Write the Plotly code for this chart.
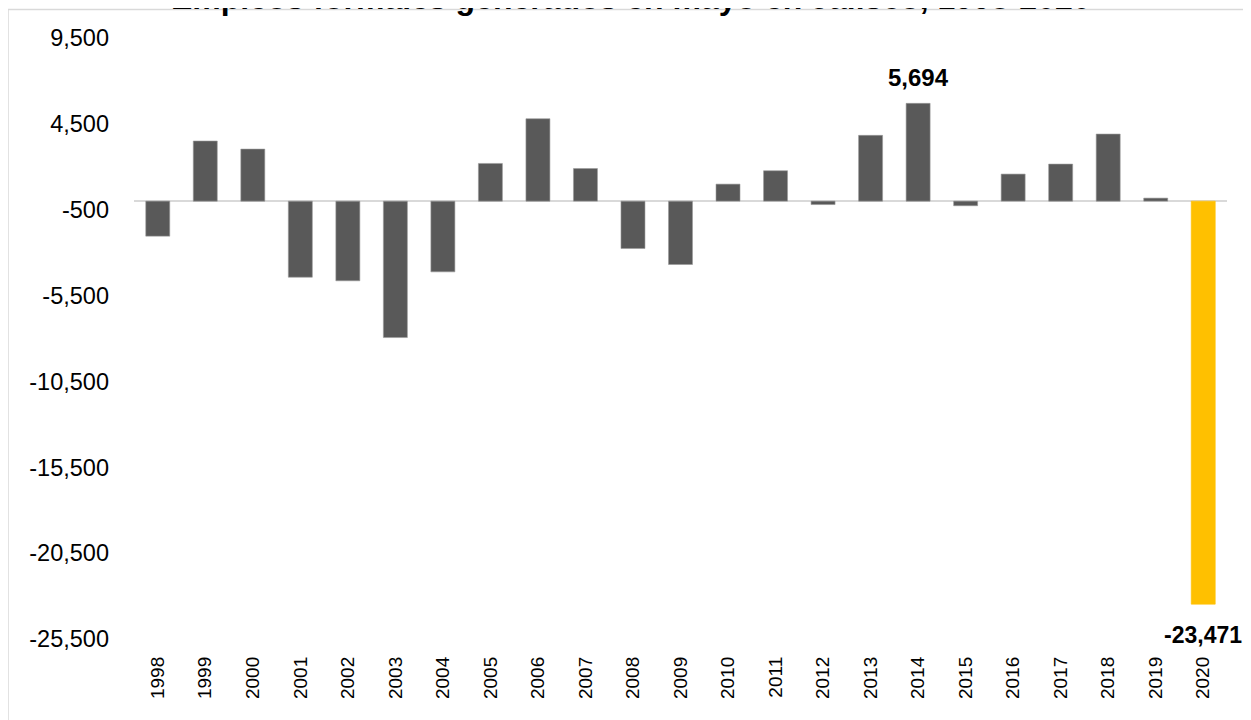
import plotly.graph_objects as go

years = [str(y) for y in range(1998, 2021)]
values = [-2040, 3500, 3030, -4430, -4640, -7945, -4120, 2195, 4800, 1900,
          -2760, -3690, 990, 1770, -200, 3830, 5694, -270, 1575, 2155, 3905,
          175, -23471]
y_tickvals = [-25500, -20500, -15500, -10500, -5500, -500, 4500, 9500]
y_ticktext = ["-25,500", "-20,500", "-15,500", "-10,500", "-5,500", "-500",
              "4,500", "9,500"]
title_text = "Empleos formales generados en mayo en Jalisco, 1998-2020"
highlight = {"2014": "5,694", "2020": "-23,471"}

colors = ["#FFC000" if y == "2020" else "#595959" for y in years]
line_colors = ["#FFC000" if y == "2020" else "#9a9a9a" for y in years]

W, H = 1251, 720
OFF = 8  # page body margin
L, R, T, B = 126, 32, 30, 89
pw, ph = W - L - R, H - T - B

def px_x(sx):
    return (sx - OFF - L) / pw

def px_y(sy):
    return (H - B - (sy - OFF)) / ph

fig = go.Figure()
fig.add_trace(go.Bar(
    x=years, y=values,
    marker=dict(color=colors, line=dict(color=line_colors, width=0.6)),
    hoverinfo="x+y",
))

font_family = "Liberation Sans, Arial, sans-serif"

i14 = years.index("2014")
i20 = years.index("2020")
annotations = [
    dict(x=i14, y=values[i14], xref="x", yref="y",
         text="<b>" + highlight["2014"] + "</b>", showarrow=False,
         yanchor="bottom", yshift=10,
         font=dict(family=font_family, size=24, color="#000000")),
    dict(x=i20, y=values[i20], xref="x", yref="y",
         text="<b>" + highlight["2020"] + "</b>", showarrow=False,
         yanchor="top", yshift=-16,
         font=dict(family=font_family, size=23, color="#000000")),
    dict(x=px_x(631), y=px_y(-2.5), xref="paper", yref="paper",
         text="<b>" + title_text + "</b>", showarrow=False,
         xanchor="center", yanchor="middle",
         font=dict(family=font_family, size=32, color="#000000")),
]

fig.update_layout(
    width=W, height=H,
    margin=dict(l=L, r=R, t=T, b=B, pad=0),
    paper_bgcolor="white", plot_bgcolor="white",
    bargap=0.495,
    showlegend=False,
    annotations=annotations,
    shapes=[dict(type="rect", xref="paper", yref="paper",
                 x0=px_x(8), x1=px_x(1290), y0=px_y(760), y1=px_y(9.5),
                 line=dict(color="#d9d9d9", width=1.5), fillcolor="rgba(0,0,0,0)",
                 layer="below")],
    xaxis=dict(
        type="category",
        range=[-0.5, len(years) - 0.5],
        tickangle=-90,
        tickfont=dict(family=font_family, size=19, color="#000000"),
        showgrid=False, showline=False, ticks="",
        ticklabelstandoff=13,
    ),
    yaxis=dict(
        range=[-25500, 9500],
        tickvals=y_tickvals, ticktext=y_ticktext,
        tickfont=dict(family=font_family, size=23.5, color="#000000"),
        showgrid=False, showline=False, ticks="",
        zeroline=True, zerolinecolor="#d9d9d9", zerolinewidth=2,
        ticklabelstandoff=24,
    ),
)

fig.write_html("out.html")
